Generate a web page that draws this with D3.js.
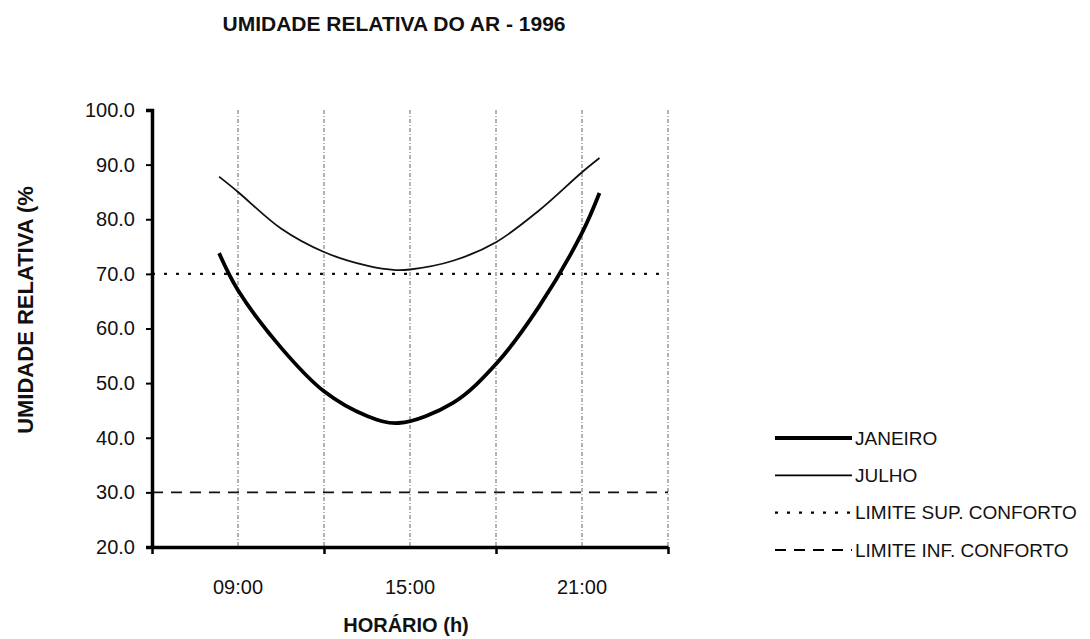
<!DOCTYPE html>
<html lang="pt">
<head>
<meta charset="UTF-8">
<title>Umidade relativa do ar - 1996</title>
<script src="https://cdn.jsdelivr.net/npm/d3@7"></script>
<style>
  body { margin: 0; background: #fff; }
  svg text { font-family: "Liberation Sans", Arial, sans-serif; fill: #111; }
</style>
</head>
<body>
<svg width="1090" height="639"></svg>
<script>
// horas (eixo x) e valores
var horasJan = [8.34, 9, 10.5, 12, 13.5, 14.6, 16.5, 18, 19.5, 21, 21.61];
var janeiro  = [73.8, 67.0, 56.5, 48.5, 44.0, 42.7, 46.4, 53.5, 64.0, 77.5, 84.8];
var horasJul = [8.34, 9, 10.5, 12, 13.5, 14.5, 15, 16.5, 18, 19.5, 21, 21.61];
var julho    = [87.8, 85.0, 78.3, 74.0, 71.5, 70.7, 70.8, 72.4, 75.8, 81.6, 88.6, 91.2];
var limiteSup = 70;
var limiteInf = 30;

var yTicks = [20, 30, 40, 50, 60, 70, 80, 90, 100];
var xLabels = [{h: 9, t: "09:00"}, {h: 15, t: "15:00"}, {h: 21, t: "21:00"}];
var xMajor = [6, 12, 18, 24];
var xGrid = [9, 12, 15, 18, 21, 24];
var legenda = ["JANEIRO", "JULHO", "LIMITE SUP. CONFORTO", "LIMITE INF. CONFORTO"];

var svg = d3.select("svg");

var x = d3.scaleLinear().domain([6, 24]).range([152, 668]);
var y = d3.scaleLinear().domain([20, 100]).range([547, 110]);

// linhas de grade verticais
svg.selectAll("line.grid")
    .data(xGrid)
    .enter()
    .append("line")
    .attr("class", "grid")
    .attr("x1", function(d){ return x(d); })
    .attr("x2", function(d){ return x(d); })
    .attr("y1", y(100))
    .attr("y2", y(20))
    .style("stroke", "#666")
    .style("stroke-width", 1)
    .style("stroke-dasharray", "4,2,1,2");

// limites de conforto
var estiloSup = {w: 2.2, dash: "3,9"};
var estiloInf = {w: 1.8, dash: "11,8"};

svg.append("line")
    .attr("x1", x(6)).attr("x2", x(24))
    .attr("y1", y(limiteSup)).attr("y2", y(limiteSup))
    .style("stroke", "#111").style("stroke-width", estiloSup.w)
    .style("stroke-dasharray", estiloSup.dash);

svg.append("line")
    .attr("x1", x(6)).attr("x2", x(24))
    .attr("y1", y(limiteInf)).attr("y2", y(limiteInf))
    .style("stroke", "#111").style("stroke-width", estiloInf.w)
    .style("stroke-dasharray", estiloInf.dash);

// curvas
var linha = d3.line()
    .x(function(d){ return x(d[0]); })
    .y(function(d){ return y(d[1]); })
    .curve(d3.curveCatmullRom.alpha(0.5));

svg.append("path")
    .datum(d3.zip(horasJul, julho))
    .attr("d", linha)
    .style("fill", "none")
    .style("stroke", "#111")
    .style("stroke-width", 1.8);

svg.append("path")
    .datum(d3.zip(horasJan, janeiro))
    .attr("d", linha)
    .style("fill", "none")
    .style("stroke", "#000")
    .style("stroke-width", 3.8);

// eixo y
var yAxis = d3.axisLeft(y)
    .tickValues(yTicks)
    .tickSize(6)
    .tickPadding(11)
    .tickFormat(d3.format(".1f"));

var gy = svg.append("g")
    .attr("transform", "translate(" + x(6) + ",0)")
    .call(yAxis);
gy.select(".domain").style("stroke", "#000").style("stroke-width", 3.5);
gy.selectAll(".tick line").style("stroke", "#000").style("stroke-width", 2);
gy.selectAll(".tick text")
    .style("font-size", "20px")
    .style("font-family", "'Liberation Sans', Arial, sans-serif")
    .style("fill", "#111");

// eixo x
var xAxis = d3.axisBottom(x)
    .tickValues(xMajor)
    .tickSize(7)
    .tickSizeOuter(0)
    .tickFormat("");

var gx = svg.append("g")
    .attr("transform", "translate(0," + y(20) + ")")
    .call(xAxis);
gx.select(".domain").style("stroke", "#000").style("stroke-width", 3.5);
gx.selectAll(".tick line").style("stroke", "#000").style("stroke-width", 2.5);

svg.selectAll("text.xlab")
    .data(xLabels)
    .enter()
    .append("text")
    .attr("class", "xlab")
    .attr("x", function(d){ return x(d.h); })
    .attr("y", 594)
    .attr("text-anchor", "middle")
    .style("font-size", "20px")
    .text(function(d){ return d.t; });

// títulos
svg.append("text")
    .attr("x", 394)
    .attr("y", 31)
    .attr("text-anchor", "middle")
    .style("font-size", "21px")
    .style("font-weight", "bold")
    .text("UMIDADE RELATIVA DO AR - 1996");

svg.append("text")
    .attr("x", 406)
    .attr("y", 632)
    .attr("text-anchor", "middle")
    .style("font-size", "20px")
    .style("font-weight", "bold")
    .text("HORÁRIO (h)");

svg.append("text")
    .attr("transform", "translate(33,310) rotate(-90)")
    .attr("text-anchor", "middle")
    .style("font-size", "22px")
    .style("font-weight", "bold")
    .text("UMIDADE RELATIVA (%");

// legenda
var estilos = [
    {w: 3.8, dash: null},
    {w: 1.8, dash: null},
    estiloSup,
    estiloInf
];
var legY = d3.scalePoint().domain(legenda).range([438, 550]);

var leg = svg.selectAll("g.leg")
    .data(legenda)
    .enter()
    .append("g")
    .attr("class", "leg")
    .attr("transform", function(d){ return "translate(0," + legY(d) + ")"; });

leg.append("line")
    .attr("x1", 775).attr("x2", 852)
    .attr("y1", 0).attr("y2", 0)
    .style("stroke", "#000")
    .style("stroke-width", function(d, i){ return estilos[i].w; })
    .style("stroke-dasharray", function(d, i){ return estilos[i].dash; });

leg.append("text")
    .attr("x", 855)
    .attr("dy", "0.35em")
    .style("font-size", "19px")
    .text(function(d){ return d; });
</script>
</body>
</html>
